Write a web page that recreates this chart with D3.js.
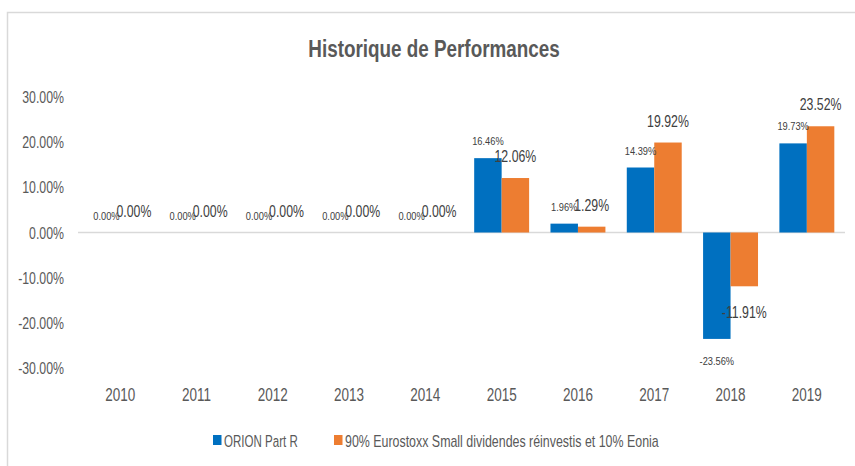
<!doctype html>
<html lang="fr">
<head>
  <meta charset="utf-8">
  <title>Historique de Performances</title>
  <script src="https://cdn.jsdelivr.net/npm/d3@7"></script>
  <style>
    body { margin: 0; background: #fff; }
    text { font-family: "Liberation Sans", Arial, sans-serif; }
  </style>
</head>
<body>
  <svg id="chart"></svg>
  <script>
    'use strict';

    // data
    var years = ["2010", "2011", "2012", "2013", "2014", "2015", "2016", "2017", "2018", "2019"];
    var orion = [0, 0, 0, 0, 0, 16.46, 1.96, 14.39, -23.56, 19.73];
    var bench = [0, 0, 0, 0, 0, 12.06, 1.29, 19.92, -11.91, 23.52];
    var seriesNames = ["ORION Part R", "90% Eurostoxx Small dividendes réinvestis et 10% Eonia"];
    var yTicks = [30, 20, 10, 0, -10, -20, -30];

    var WIDTH = 855, HEIGHT = 466;
    var BLUE = "#0070C0", ORANGE = "#ED7D31";

    var svg = d3.select("#chart").attr("width", WIDTH).attr("height", HEIGHT);

    // the reference font is narrow, so squeeze the text horizontally
    function squeeze(sel, k) {
      sel.each(function() {
        var t = d3.select(this);
        var tx = +t.attr("x") || 0, ty = +t.attr("y") || 0;
        t.attr("x", 0).attr("y", 0)
          .attr("transform", "translate(" + tx + "," + ty + ") scale(" + k + ",1)");
      });
    }

    // frame (only top and left edges are visible)
    svg.append("path")
      .attr("d", "M7.5,466V12.5H855")
      .attr("fill", "none").attr("stroke", "#d9d9d9").attr("stroke-width", 1.5);

    svg.append("text")
      .attr("x", 434).attr("y", 57)
      .attr("text-anchor", "middle")
      .attr("font-size", 23).attr("font-weight", "bold")
      .attr("fill", "#595959")
      .text("Historique de Performances")
      .call(squeeze, 0.82);

    var x = d3.scaleBand().domain(years).range([82, 845]).paddingInner(0.28).paddingOuter(0.14);
    var xs = d3.scaleBand().domain([0, 1]).range([0, x.bandwidth()]);
    var y = d3.scaleLinear().domain([-30, 30]).range([368, 97]);

    // y axis labels
    var yAxis = d3.axisLeft(y).tickValues(yTicks).tickSize(0).tickPadding(0)
      .tickFormat(function(d){ return d.toFixed(2) + "%"; });
    var gy = svg.append("g").attr("transform", "translate(64,0.5)").call(yAxis);
    gy.select(".domain").remove();
    gy.selectAll("text").attr("font-size", 16).attr("fill", "#595959").attr("font-family", null)
      .attr("transform", "scale(0.77,1)");

    // zero line
    svg.append("line")
      .attr("x1", 78).attr("x2", 845)
      .attr("y1", y(0)).attr("y2", y(0))
      .attr("stroke", "#d9d9d9").attr("stroke-width", 1.5);

    // x axis labels
    var xAxis = d3.axisBottom(x).tickSize(0).tickPadding(0);
    var gx = svg.append("g").attr("transform", "translate(0,388)").call(xAxis);
    gx.select(".domain").remove();
    gx.selectAll("text").attr("font-size", 18.5).attr("fill", "#595959").attr("font-family", null)
      .attr("transform", "scale(0.73,1)");

    var data = years.map(function(yr, i){ return {year: yr, vals: [orion[i], bench[i]]}; });
    var colors = [BLUE, ORANGE];
    var labelSize = [11.6, 16];
    var labelSqueeze = [0.8, 0.77];
    var gapAbove = [13, 16];
    var gapBelow = [26, 32];

    var groups = svg.append("g").selectAll("g").data(data).enter().append("g")
      .attr("transform", function(d){ return "translate(" + x(d.year) + ",0)"; });

    [0, 1].forEach(function(s) {
      groups.append("rect")
        .attr("x", xs(s))
        .attr("width", xs.bandwidth())
        .attr("y", function(d){ return y(Math.max(0, d.vals[s])); })
        .attr("height", function(d){ return Math.abs(y(d.vals[s]) - y(0)); })
        .attr("fill", colors[s]);
    });

    [0, 1].forEach(function(s) {
      groups.append("text")
        .attr("x", xs(s) + xs.bandwidth() / 2)
        .attr("y", function(d){
          var v = d.vals[s];
          return v < 0 ? y(v) + gapBelow[s] : y(v) - gapAbove[s];
        })
        .attr("text-anchor", "middle")
        .attr("font-size", labelSize[s])
        .attr("fill", "#404040")
        .text(function(d){ return d.vals[s].toFixed(2) + "%"; })
        .call(squeeze, labelSqueeze[s]);
    });

    // legend
    var legend = svg.append("g").attr("transform", "translate(213,435)");
    var lx = [0, 121];
    var lk = [0.68, 0.73];
    seriesNames.forEach(function(name, i) {
      legend.append("rect").attr("x", lx[i]).attr("y", 0).attr("width", 8.5).attr("height", 10).attr("fill", colors[i]);
      legend.append("text").attr("x", lx[i] + 11).attr("y", 11.5)
        .attr("font-size", 17).attr("fill", "#595959").text(name)
        .call(squeeze, lk[i]);
    });
  </script>
</body>
</html>
